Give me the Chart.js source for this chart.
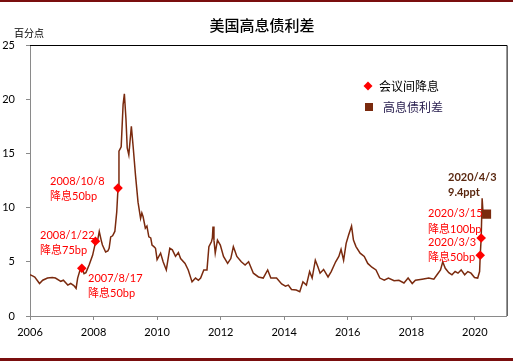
<!DOCTYPE html>
<html><head><meta charset="utf-8">
<script src="https://cdn.jsdelivr.net/npm/chart.js@4/dist/chart.umd.min.js"></script>
<style>html,body{margin:0;padding:0;background:#fff;}#wrap{position:relative;width:513px;height:361px;}</style>
</head><body><div id="wrap"><canvas id="c" width="513" height="361"></canvas></div>
<script>
// ---- data (decimal year, percentage points) ----
const spreadDates = [
2006.00,2006.08,2006.15,2006.30,2006.40,2006.55,2006.70,2006.80,2006.97,2007.05,2007.19,2007.28,2007.38,2007.45,2007.50,2007.57,2007.63,2007.70,2007.76,2007.86,2007.97,
2008.07,2008.13,2008.18,2008.24,2008.28,2008.38,2008.45,2008.49,2008.54,2008.60,2008.67,2008.73,2008.77,2008.80,2008.87,2008.93,2008.97,
2009.02,2009.06,2009.11,2009.19,2009.25,2009.32,2009.40,2009.48,2009.52,2009.56,2009.63,2009.68,2009.74,2009.80,2009.84,2009.90,2009.95,
2010.00,2010.11,2010.19,2010.29,2010.40,2010.48,2010.58,2010.67,2010.74,2010.88,2010.98,
2011.10,2011.21,2011.30,2011.37,2011.47,2011.57,2011.63,2011.71,2011.74,2011.76,2011.79,2011.83,2011.90,2011.99,
2012.09,2012.22,2012.32,2012.40,2012.45,2012.51,2012.65,2012.77,2012.88,
2013.03,2013.19,2013.34,2013.48,2013.58,2013.76,2013.92,
2014.04,2014.13,2014.23,2014.38,2014.49,2014.59,2014.70,2014.80,2014.88,2014.98,
2015.06,2015.13,2015.24,2015.38,2015.48,2015.62,2015.72,2015.79,2015.87,2015.95,
2016.03,2016.12,2016.18,2016.26,2016.39,2016.52,2016.63,2016.76,2016.89,
2017.01,2017.15,2017.28,2017.46,2017.61,2017.77,2017.90,
2018.03,2018.13,2018.34,2018.55,2018.71,2018.81,2018.92,2018.99,
2019.07,2019.18,2019.28,2019.38,2019.47,2019.57,2019.68,2019.78,2019.88,2019.99,
2020.09,2020.15,2020.17,2020.20,2020.23,2020.26
];
const spreadValues = [
3.8,3.7,3.6,3.0,3.3,3.5,3.55,3.5,3.2,3.3,2.85,3.0,2.8,2.55,3.5,4.2,4.5,3.9,4.0,4.7,5.6,
6.9,7.0,7.8,7.0,6.55,5.9,6.0,6.25,7.3,7.4,7.8,9.6,11.8,15.2,15.6,19.5,20.5,
18.2,15.5,14.85,17.5,15.5,13.0,10.5,9.0,9.5,9.15,8.1,8.3,7.3,7.2,6.55,6.4,6.25,
5.2,5.8,5.0,4.25,6.25,6.1,5.5,5.85,5.3,4.85,4.25,
3.15,3.5,3.3,3.5,4.25,4.25,6.4,6.85,7.2,8.25,7.0,5.8,7.0,6.55,
5.5,4.85,5.3,6.4,6.0,5.5,5.0,4.7,5.0,
3.95,3.6,3.5,4.25,3.5,3.5,2.95,
2.75,2.85,2.45,2.4,2.25,3.15,2.85,4.1,3.5,5.15,
4.55,3.95,4.3,3.6,4.1,5.0,5.5,6.15,5.15,6.7,
7.5,8.3,7.0,6.4,5.8,5.5,4.85,4.5,4.25,
3.5,3.3,3.5,3.25,3.3,3.05,3.5,
3.0,3.3,3.4,3.5,3.4,3.8,4.25,5.0,
4.4,4.0,3.8,4.1,3.95,4.25,3.8,4.1,3.95,3.55,
3.5,4.1,5.6,7.2,10.85,9.4
];
const cutDates  = [2007.63, 2008.06, 2008.77, 2020.17, 2020.20];
const cutValues = [4.4, 6.9, 11.8, 5.6, 7.2];
const latestDates  = [2020.37];
const latestValues = [9.4];
const xTickLabels = [2006, 2008, 2010, 2012, 2014, 2016, 2018, 2020];
const yTickLabels = [0, 5, 10, 15, 20, 25];
const seriesNames = ['会议间降息', '高息债利差'];
const titleText = '美国高息债利差';
const unitText = '百分点';
const noteTexts = [
  ['2008/10/8', '降息50bp'],
  ['2008/1/22', '降息75bp'],
  ['2007/8/17', '降息50bp'],
  ['2020/3/15', '降息100bp'],
  ['2020/3/3', '降息50bp'],
  ['2020/4/3', '9.4ppt']
];

const LINE = '#7A2A0E', RED = '#FF0000', DARK = '#5A2810';
const LAT = "Lato, 'Noto Sans CJK SC', sans-serif";
const CJK = "'Noto Sans CJK SC', sans-serif";

const deco = {
  id: 'deco',
  beforeDraw(chart) {
    const c = chart.ctx;
    c.save();
    c.fillStyle = '#fff'; c.fillRect(0, 0, chart.width, chart.height);
    c.fillStyle = '#7A0E0E';
    c.fillRect(0, 0, chart.width, 2);
    c.fillRect(0, 358, chart.width, 3);
    c.restore();
  },
  afterDatasetsDraw(chart) {
    const c = chart.ctx, a = chart.chartArea;
    c.save();
    c.strokeStyle = '#000'; c.lineWidth = 1;
    c.beginPath();
    c.moveTo(a.left, a.top + 0.5); c.lineTo(a.right + 0.5, a.top + 0.5);
    c.lineTo(a.right + 0.5, a.bottom);
    c.stroke();
    // title
    c.fillStyle = '#000'; c.textBaseline = 'middle'; c.textAlign = 'center';
    c.font = "500 15px " + CJK;
    c.fillText(titleText, 262, 25);
    c.textAlign = 'left';
    c.font = "10px " + CJK;
    c.fillText(unitText, 14, 33);
    // legend
    c.fillStyle = RED;
    c.beginPath(); c.moveTo(368, 81.5); c.lineTo(372.5, 86); c.lineTo(368, 90.5); c.lineTo(363.5, 86); c.closePath(); c.fill();
    c.fillStyle = LINE; c.fillRect(365, 103, 8, 8);
    c.fillStyle = '#000'; c.font = "12px " + CJK;
    c.fillText(seriesNames[0], 379, 86);
    c.fillStyle = '#2a2050';
    c.fillText(seriesNames[1], 383, 107);
    // notes
    c.font = "11px " + LAT;
    const pos = [[50,181.5,196],[40,235.5,250],[88,278.5,293.5],[428,213.5,229],[428,242,257.5]];
    c.fillStyle = RED;
    pos.forEach((p, i) => {
      c.fillText(noteTexts[i][0], p[0], p[1]);
      c.fillText(noteTexts[i][1], p[0], p[2]);
    });
    c.fillStyle = DARK; c.font = "bold 11px " + LAT;
    c.fillText(noteTexts[5][0], 448, 177.5);
    c.fillText(noteTexts[5][1], 448, 192.5);
    c.restore();
  }
};

new Chart(document.getElementById('c'), {
  type: 'scatter',
  data: {
    datasets: [
      { label: seriesNames[0], data: cutDates.map((d, i) => ({x: d, y: cutValues[i]})),
        pointStyle: 'rectRot', pointRadius: 4.8, backgroundColor: RED, borderColor: RED, borderWidth: 0 },
      { label: seriesNames[1] + ' latest', data: latestDates.map((d, i) => ({x: d, y: latestValues[i]})),
        pointStyle: 'rect', pointRadius: 6.4, backgroundColor: LINE, borderColor: LINE, borderWidth: 0 },
      { label: seriesNames[1], data: spreadDates.map((d, i) => ({x: d, y: spreadValues[i]})),
        showLine: true, pointRadius: 0, borderColor: LINE, borderWidth: 1.5, tension: 0 }
    ]
  },
  options: {
    responsive: false, animation: false, devicePixelRatio: 1,
    layout: { padding: { top: 45, right: 5, left: 0, bottom: 0 } },
    plugins: { legend: { display: false }, tooltip: { enabled: false } },
    scales: {
      x: {
        type: 'linear', min: 2006, max: 2021,
        afterBuildTicks: s => { s.ticks = xTickLabels.map(v => ({ value: v })); },
        afterFit: s => { s.height = 45; },
        ticks: { callback: v => String(v), color: '#000', font: { family: LAT, size: 11 }, padding: 6, maxRotation: 0, autoSkip: false },
        grid: { drawOnChartArea: false, drawTicks: true, tickLength: 4, color: '#8a8a8a' },
        border: { color: '#8a8a8a' }
      },
      y: {
        min: 0, max: 25,
        afterBuildTicks: s => { s.ticks = yTickLabels.map(v => ({ value: v })); },
        afterFit: s => { s.width = 30; },
        ticks: { callback: v => String(v), color: '#000', font: { family: LAT, size: 11 }, padding: 11 },
        grid: { drawOnChartArea: false, drawTicks: true, tickLength: 4, color: '#8a8a8a' },
        border: { color: '#8a8a8a' }
      }
    }
  },
  plugins: [deco]
});
</script></body></html>
